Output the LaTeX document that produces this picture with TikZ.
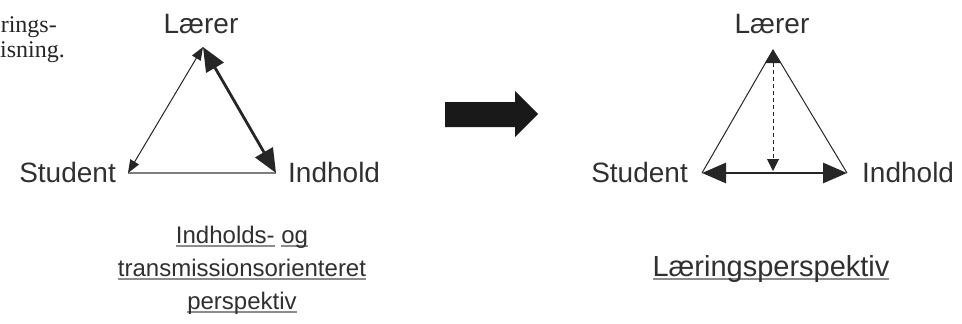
\documentclass[tikz,border=0pt]{standalone}
\usepackage{fontspec}
\setmainfont{Liberation Sans}
\newfontfamily\serifface{Liberation Serif}
\usetikzlibrary{arrows.meta}
\definecolor{txt}{HTML}{303030}
\definecolor{ln}{HTML}{262626}
\definecolor{ulgray}{HTML}{8C8C8C}
\newsavebox\ulbox
\newcommand\ulw[1]{\sbox\ulbox{#1}\makebox[0pt][l]{\textcolor{ulgray}{\rule[-3.5pt]{\wd\ulbox}{1.3pt}}}\usebox\ulbox}
\tikzset{
  lbl/.style={inner sep=0pt, text=txt, font=\fontsize{28}{30}\selectfont},
  captext/.style={inner sep=0pt, text=txt, font=\fontsize{24}{26}\selectfont, anchor=base},
  serifnote/.style={inner sep=0pt, text=black!85, font=\serifface\fontsize{24}{27}\selectfont, anchor=base east},
  thinside/.style={draw=ln, line width=1pt},
  thinarrow/.style={draw=ln, line width=1pt, {Triangle[length=13pt,width=10pt]}-{Triangle[length=13pt,width=10pt]}},
  thickarrow/.style={draw=ln, line width=2.8pt, {Triangle[length=24pt,width=20pt]}-{Triangle[length=24pt,width=20pt]}},
  dasharrow/.style={draw=ln, line width=1pt, dash pattern=on 4pt off 3pt, {Triangle[length=13pt,width=16pt]}-{Triangle[length=12pt,width=12pt]}},
  bottomline/.style={draw=ulgray!90!black, line width=1.6pt},
}
\begin{document}
\begin{tikzpicture}[x=1pt,y=-1pt]
\useasboundingbox (0,0) rectangle (962,324);
% partial serif note
\node[serifnote] (n1) at (57,32) {rings-};
\node[serifnote] (n2) at (65,57) {isning.};
% left triangle
\coordinate (L1) at (203,47);
\coordinate (S1) at (128,173);
\coordinate (I1) at (276,173);
\node[lbl, anchor=base] (tL1) at (201,33) {Lærer};
\node[lbl, anchor=base east] (tS1) at (116,182) {Student};
\node[lbl, anchor=base west] (tI1) at (288,182) {Indhold};
\draw[bottomline] (S1) -- (I1);
\draw[thinarrow] (S1) -- (L1);
\draw[thickarrow] (L1) -- (I1);
\node[captext] (c1) at (242,243) {\ulw{Indholds-} \ulw{og}};
\node[captext] (c2) at (242,276) {\ulw{transmissionsorienteret}};
\node[captext] (c3) at (242,309) {\ulw{perspektiv}};
% big arrow
\fill[black!90] (445,102) -- (515,102) -- (515,91) -- (538,114) -- (515,137) -- (515,127) -- (445,127) -- cycle;
% right triangle
\coordinate (L2) at (773,50);
\coordinate (S2) at (702,173);
\coordinate (I2) at (847,173);
\coordinate (B2) at (773,171);
\node[lbl, anchor=base] (tL2) at (772,33) {Lærer};
\node[lbl, anchor=base east] (tS2) at (688,182) {Student};
\node[lbl, anchor=base west] (tI2) at (862,182) {Indhold};
\draw[thinside] (S2) -- (L2) -- (I2);
\draw[dasharrow] (L2) -- (B2);
\draw[thickarrow] (S2) -- (I2);
\node[captext, font=\fontsize{29}{31}\selectfont] (c4) at (771,276) {\ulw{Læringsperspektiv}};
\end{tikzpicture}
\end{document}
